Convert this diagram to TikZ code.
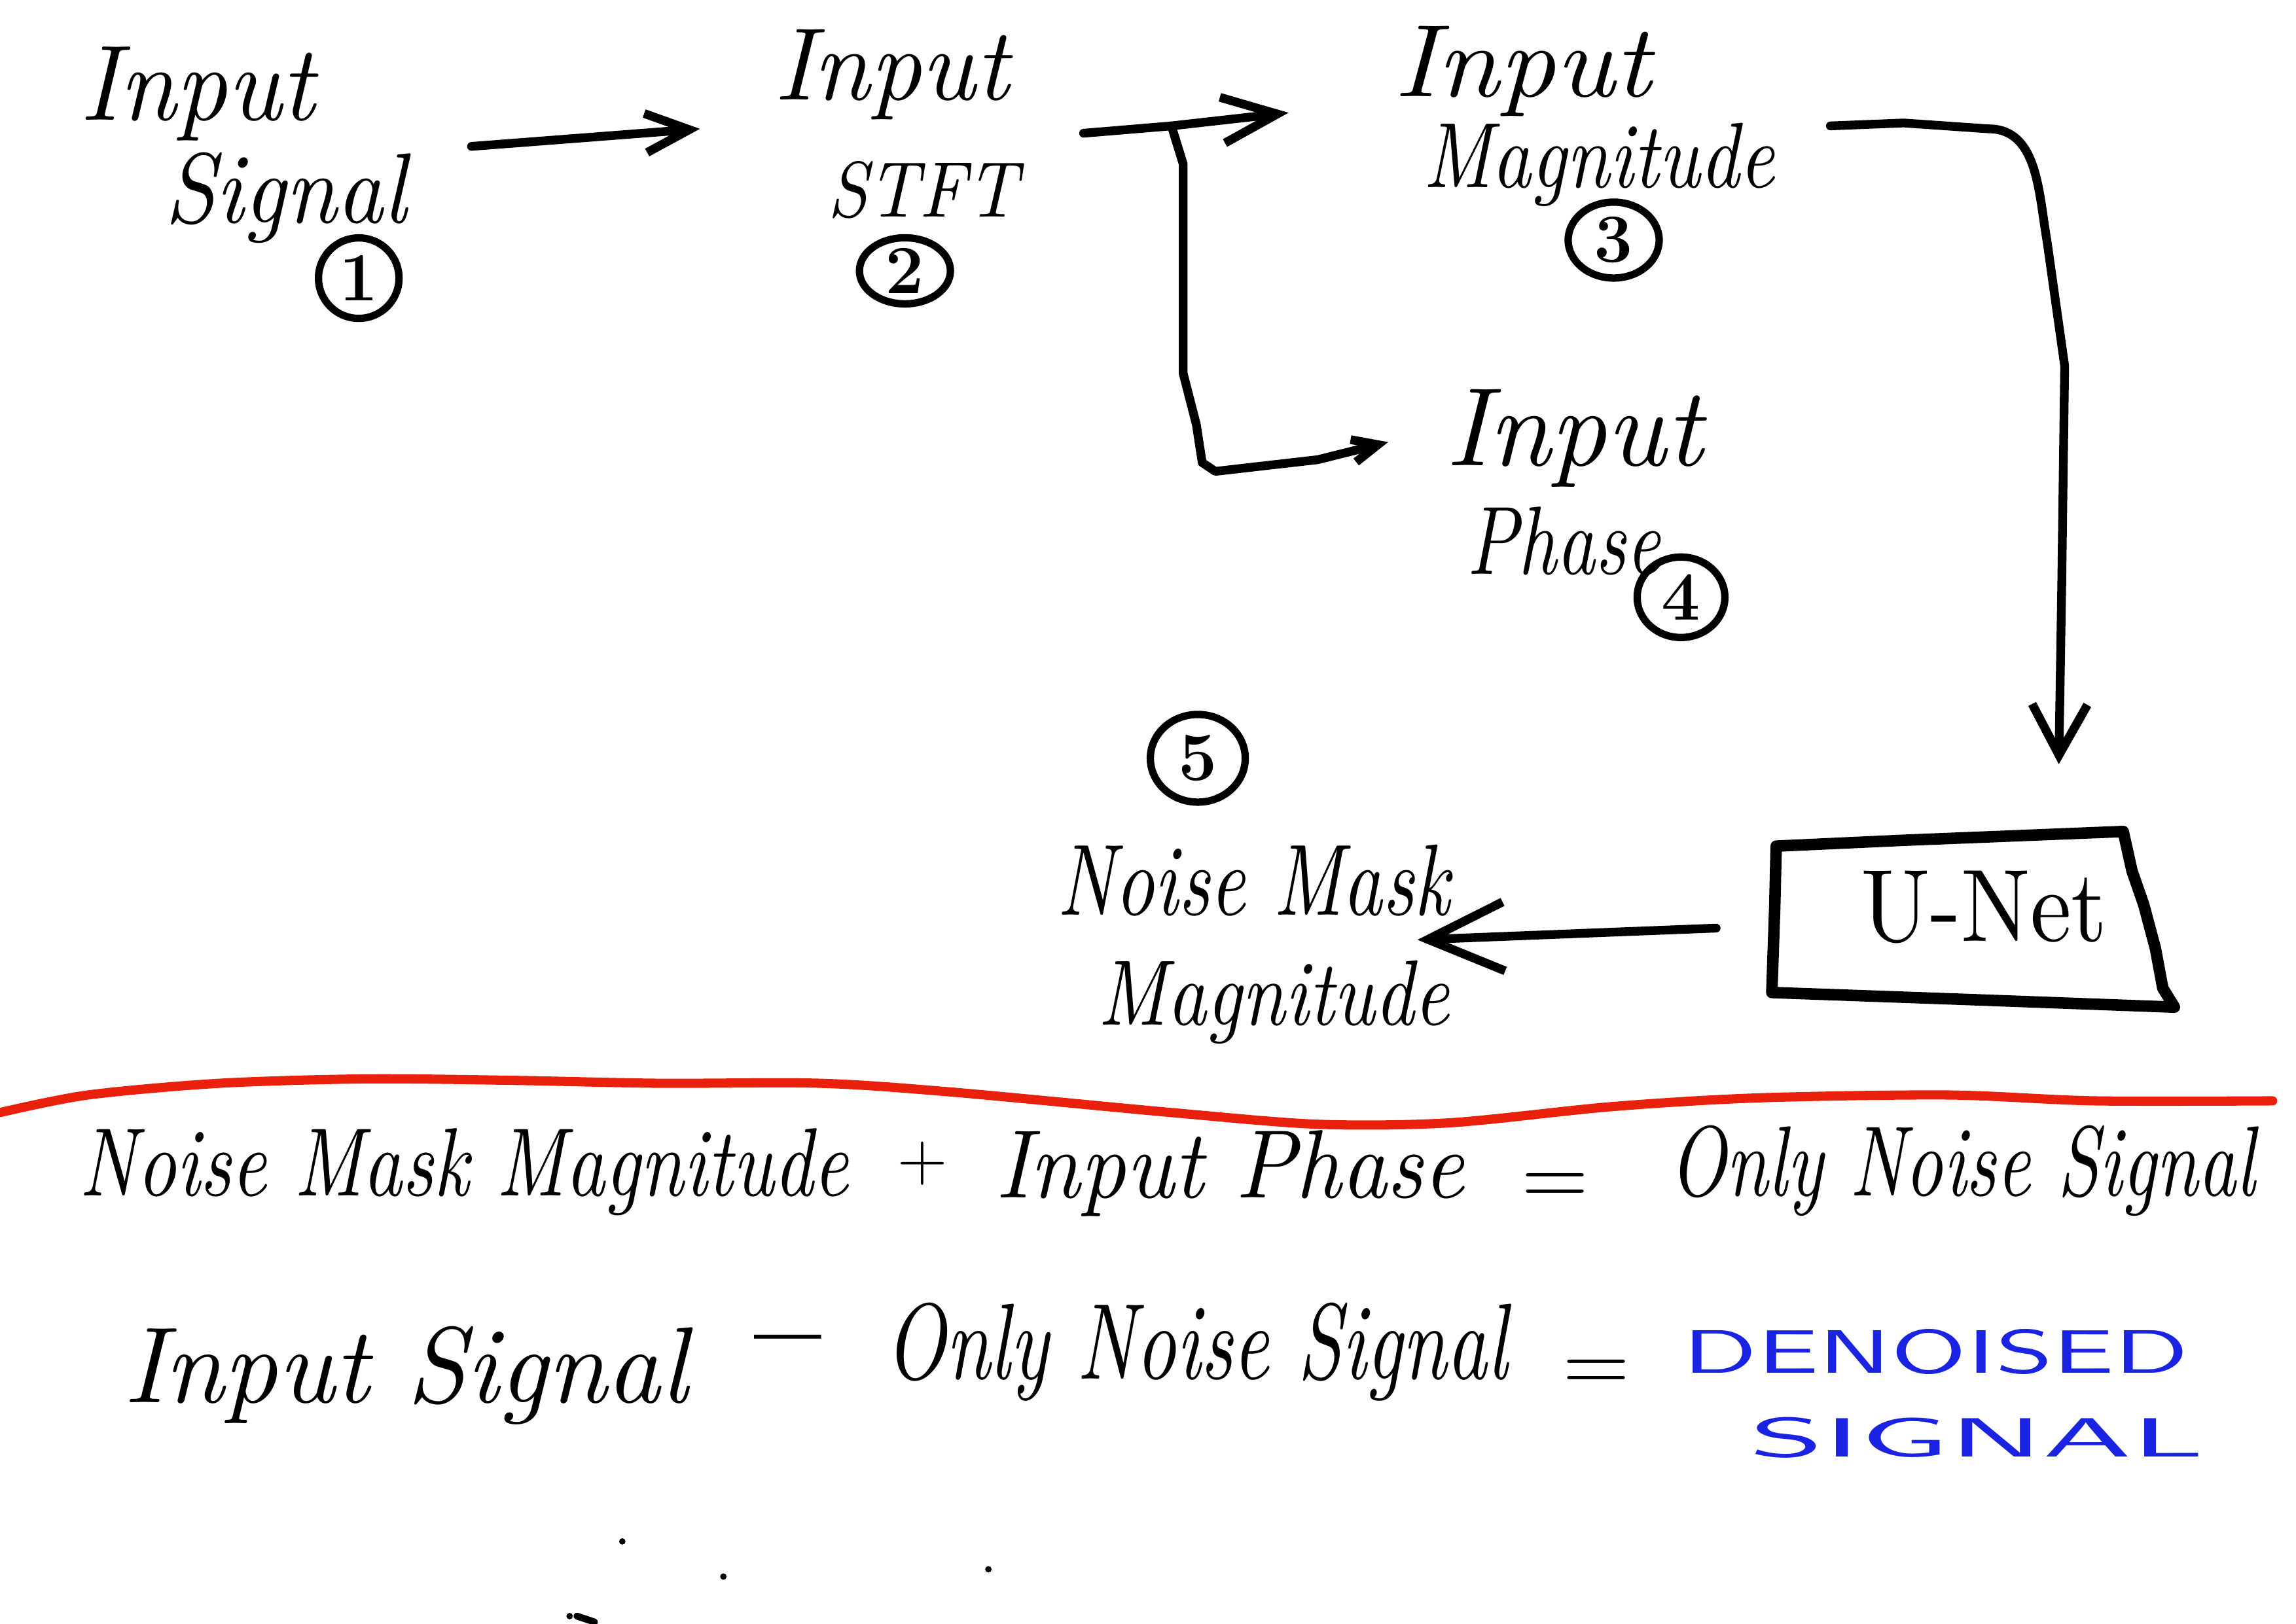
\documentclass[tikz,border=0pt]{standalone}
\usetikzlibrary{arrows.meta,shapes.geometric}
\newlength\pxu
\setlength\pxu{0.022372cm}
\newcommand\hwfit[3]{\resizebox{#1\pxu}{#2\pxu}{\itshape #3}}
\newcommand\upfit[3]{\resizebox{#1\pxu}{#2\pxu}{#3}}
\newcommand\sffit[3]{\resizebox{#1\pxu}{#2\pxu}{\sffamily #3}}
\definecolor{penred}{RGB}{232,32,12}
\definecolor{penblue}{RGB}{25,35,225}
\begin{document}
\begin{tikzpicture}[x=0.022372cm,y=-0.022372cm,
  lbl/.style={inner sep=0pt,anchor=base},
  num/.style={draw,ellipse,line width=3.2pt,inner sep=0pt,font=\fontsize{30}{30}\selectfont\bfseries},
  pen/.style={line width=3.8pt,line cap=round,line join=round},
  boxpen/.style={line width=5pt,line cap=round,line join=round},
  redpen/.style={line width=4pt,line cap=round,line join=round,draw=penred},
  sym/.style={inner sep=0pt,anchor=center,font=\fontsize{40}{40}\selectfont}
]
\useasboundingbox (0,0) rectangle (1568,1109);

% ---- Stage 1: input signal
\node[lbl] (t1a) at (135,82) {\hwfit{160}{50}{Input}};
\node[lbl] (t1b) at (195,152) {\hwfit{165}{48}{Signal}};
\node[num,minimum width=1.23cm,minimum height=1.23cm] (n1) at (245,190) {1};

% ---- Stage 2: STFT
\node[lbl] (t2a) at (609,68) {\hwfit{160}{48}{Input}};
\node[lbl] (t2b) at (630,148) {\hwfit{130}{38}{STFT}};
\node[num,minimum width=1.39cm,minimum height=1.01cm] (n2) at (618,185) {2};

% ---- Stage 3: magnitude
\node[lbl] (t3a) at (1040,66) {\hwfit{175}{48}{Input}};
\node[lbl] (t3b) at (1092,128) {\hwfit{240}{44}{Magnitude}};
\node[num,minimum width=1.39cm,minimum height=1.16cm] (n3) at (1102,164) {3};

% ---- Stage 4: phase
\node[lbl] (t4a) at (1075,318) {\hwfit{175}{52}{Input}};
\node[lbl] (t4b) at (1068,392) {\hwfit{132}{46}{Phase}};
\node[num,minimum width=1.34cm,minimum height=1.23cm] (n4) at (1148,408) {4};

% ---- U-Net box
\node[inner sep=0pt,anchor=base] (unet) at (1355,643) {\upfit{168}{48}{U-Net}};
\draw[boxpen] (1213,578) -- (1300,574) -- (1450,568) -- (1456,595) -- (1464,618)
  -- (1472,648) -- (1477,675) -- (1485,688) -- (1350,683) -- (1210,678) -- (1212,620) -- cycle;

% ---- Stage 5: noise mask magnitude
\node[num,minimum width=1.45cm,minimum height=1.34cm] (n5) at (818,518) {5};
\node[lbl] (t5a) at (856,625) {\hwfit{268}{48}{Noise Mask}};
\node[lbl] (t5b) at (870,700) {\hwfit{240}{44}{Magnitude}};

% ---- connectors
\coordinate (a1s) at (322,100);
\coordinate (a1e) at (478,88);
\draw[pen,-{Straight Barb[length=19pt,width=17pt]}] (a1s) -- (a1e);

\coordinate (a2s) at (740,91);
\coordinate (a2e) at (880,77);
\coordinate (bj) at (800,86);
\coordinate (a4e) at (948,302);
\draw[pen,-{Straight Barb[length=24pt,width=20pt]}] (a2s) -- (bj) -- (a2e);
\draw[pen,-{Straight Barb[length=11pt,width=10pt]}] (bj) -- (808,112) -- (808,255)
  -- (817,290) -- (821,316) -- (830,322) -- (900,314) -- (a4e);

\coordinate (a3s) at (1250,86);
\coordinate (a3e) at (1406,522);
\draw[pen,-{Straight Barb[length=22pt,width=24pt]}] (a3s) -- (1300,84) -- (1358,88)
  to[out=0,in=100] (1398,165) -- (1410,250) -- (1408,400) -- (a3e);

\coordinate (a5s) at (1172,634);
\coordinate (a5e) at (968,642);
\draw[pen,-{Straight Barb[length=33pt,width=30pt]}] (a5s) -- (a5e);

% ---- red divider
\draw[redpen] plot[smooth] coordinates {(0,760) (60,748) (150,740) (250,737) (350,738)
  (450,740) (560,740) (650,746) (800,760) (900,768) (990,767) (1100,756) (1200,750)
  (1330,748) (1430,752) (1552,752)};

% ---- equation line 1
\node[lbl] (e1a) at (317,817) {\hwfit{525}{46}{Noise Mask Magnitude}};
\node[sym,font=\fontsize{30}{30}\selectfont] (e1p) at (630,795) {+};
\node[lbl] (e1b) at (840,818) {\hwfit{320}{46}{Input Phase}};
\node[sym] (e1q) at (1062,813) {=};
\node[lbl] (e1c) at (1340,817) {\hwfit{400}{48}{Only Noise Signal}};

% ---- equation line 2
\node[lbl] (e2a) at (277,958) {\hwfit{385}{52}{Input Signal}};
\node[sym,font=\fontsize{52}{52}\selectfont\bfseries] (e2m) at (538,924) {\textendash};
\node[lbl] (e2b) at (817,942) {\hwfit{425}{52}{Only Noise Signal}};
\node[sym] (e2q) at (1090,940) {=};
\node[lbl,text=penblue] (e2c) at (1322,938) {\sffit{345}{30}{DENOISED}};
\node[lbl,text=penblue] (e2d) at (1350,995) {\sffit{310}{27}{SIGNAL}};

% ---- stray dots
\fill (425,1053) circle (1.4pt);
\fill (494,1077) circle (1.4pt);
\fill (675,1072) circle (1.4pt);
\fill (389,1104) circle (1.4pt);
\draw[line width=3pt,line cap=round] (394,1104) -- (406,1108);
\end{tikzpicture}
\end{document}
